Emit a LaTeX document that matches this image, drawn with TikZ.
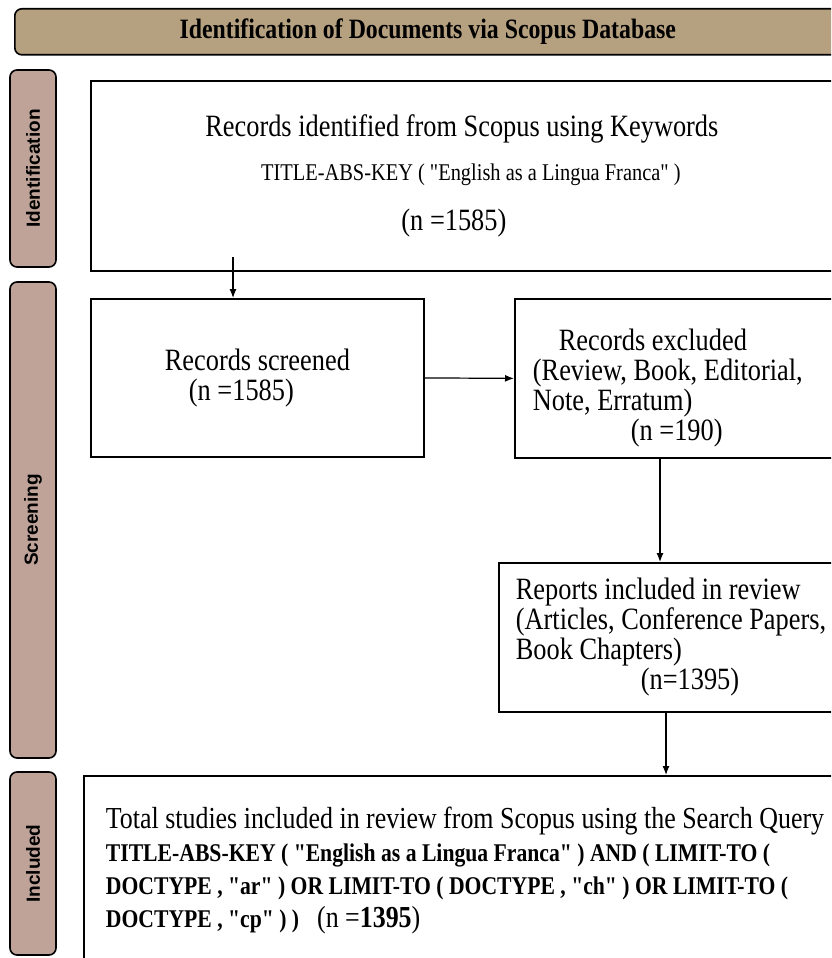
\documentclass[tikz,border=0pt]{standalone}
\usepackage{fontspec}
\setmainfont{Liberation Serif}[FakeStretch=0.85, Ligatures=TeXOff]
\setsansfont{Liberation Sans}
\usetikzlibrary{arrows.meta}
\definecolor{titlefill}{RGB}{181,160,128}
\definecolor{stagefill}{RGB}{191,163,153}
\tikzset{
  box/.style={draw, line width=1.8pt, anchor=north west, inner sep=0pt, font=\fontsize{31}{30}\selectfont},
  stage/.style={draw, line width=1.6pt, rounded corners=7pt, fill=stagefill, rotate=90, minimum height=46pt, inner sep=0pt, font=\sffamily\bfseries\fontsize{19}{19}\selectfont},
}
\begin{document}
\begin{tikzpicture}[x=1pt, y=-1pt, >={Latex[length=9pt,width=7pt]}]
\clip (0,0) rectangle (831,958);
\fill[white] (0,0) rectangle (831,958);

\node[draw, line width=1.6pt, rounded corners=7pt, fill=titlefill, anchor=north west, minimum width=826, minimum height=46, font=\bfseries\fontsize{28}{28}\selectfont] (title) at (14,8) {Identification of Documents via Scopus Database};

\node[stage, minimum width=197] (idstage) at (33,168.5) {Identification};
\node[stage, minimum width=476] (scstage) at (33,520) {Screening};
\node[stage, minimum width=183] (instage) at (33,863.5) {Included};

\node[box, minimum width=742, minimum height=190, align=center] (ident) at (90,80) {Records identified from Scopus using Keywords\\[14pt] {\fontsize{24}{30}\selectfont\hspace*{18pt}TITLE-ABS-KEY ( "English as a Lingua Franca" )}\\[20pt] (n =1585)\hspace*{16pt}};
\node[box, minimum width=333, minimum height=158, align=center] (screen) at (90,298) {Records screened\\(n =1585)\hspace*{32pt}};
\node[box, minimum width=326, minimum height=159, align=flush left, text width=290, inner xsep=18] (excl) at (514,298) {\rule{0pt}{40pt}\hspace*{26pt}Records excluded\\(Review, Book, Editorial,\\Note, Erratum)\\\hspace*{98pt}(n =190)};
\node[box, minimum height=149, align=flush left, text width=320, inner xsep=17] (incl) at (498,562) {Reports included in review\\(Articles, Conference Papers,\\Book Chapters)\\\hspace*{125pt}(n=1395)};
\node[box, minimum height=190, align=flush left, text width=760, inner xsep=22, font=\fontsize{30.5}{33}\selectfont] (total) at (83,775) {Total studies included in review from Scopus using the Search Query\\
{\bfseries\fontsize{25.5}{33}\selectfont TITLE-ABS-KEY ( "English as a Lingua Franca" ) AND ( LIMIT-TO (\\
DOCTYPE , "ar" ) OR LIMIT-TO ( DOCTYPE , "ch" ) OR LIMIT-TO (\\
DOCTYPE , "cp" ) )}\hspace{18pt}(n =\textbf{1395})};

\coordinate (s1) at (233,257);
\draw[->, line width=1.2pt] (s1) -- (s1 |- screen.north);
\draw[->, line width=1.2pt] (screen.east) -- (excl.west);
\draw[->, line width=1.2pt] (excl.south -| 660,0) -- (incl.north -| 660,0);
\draw[->, line width=1.2pt] (incl.south -| 666,0) -- (total.north -| 666,0);
\end{tikzpicture}
\end{document}
